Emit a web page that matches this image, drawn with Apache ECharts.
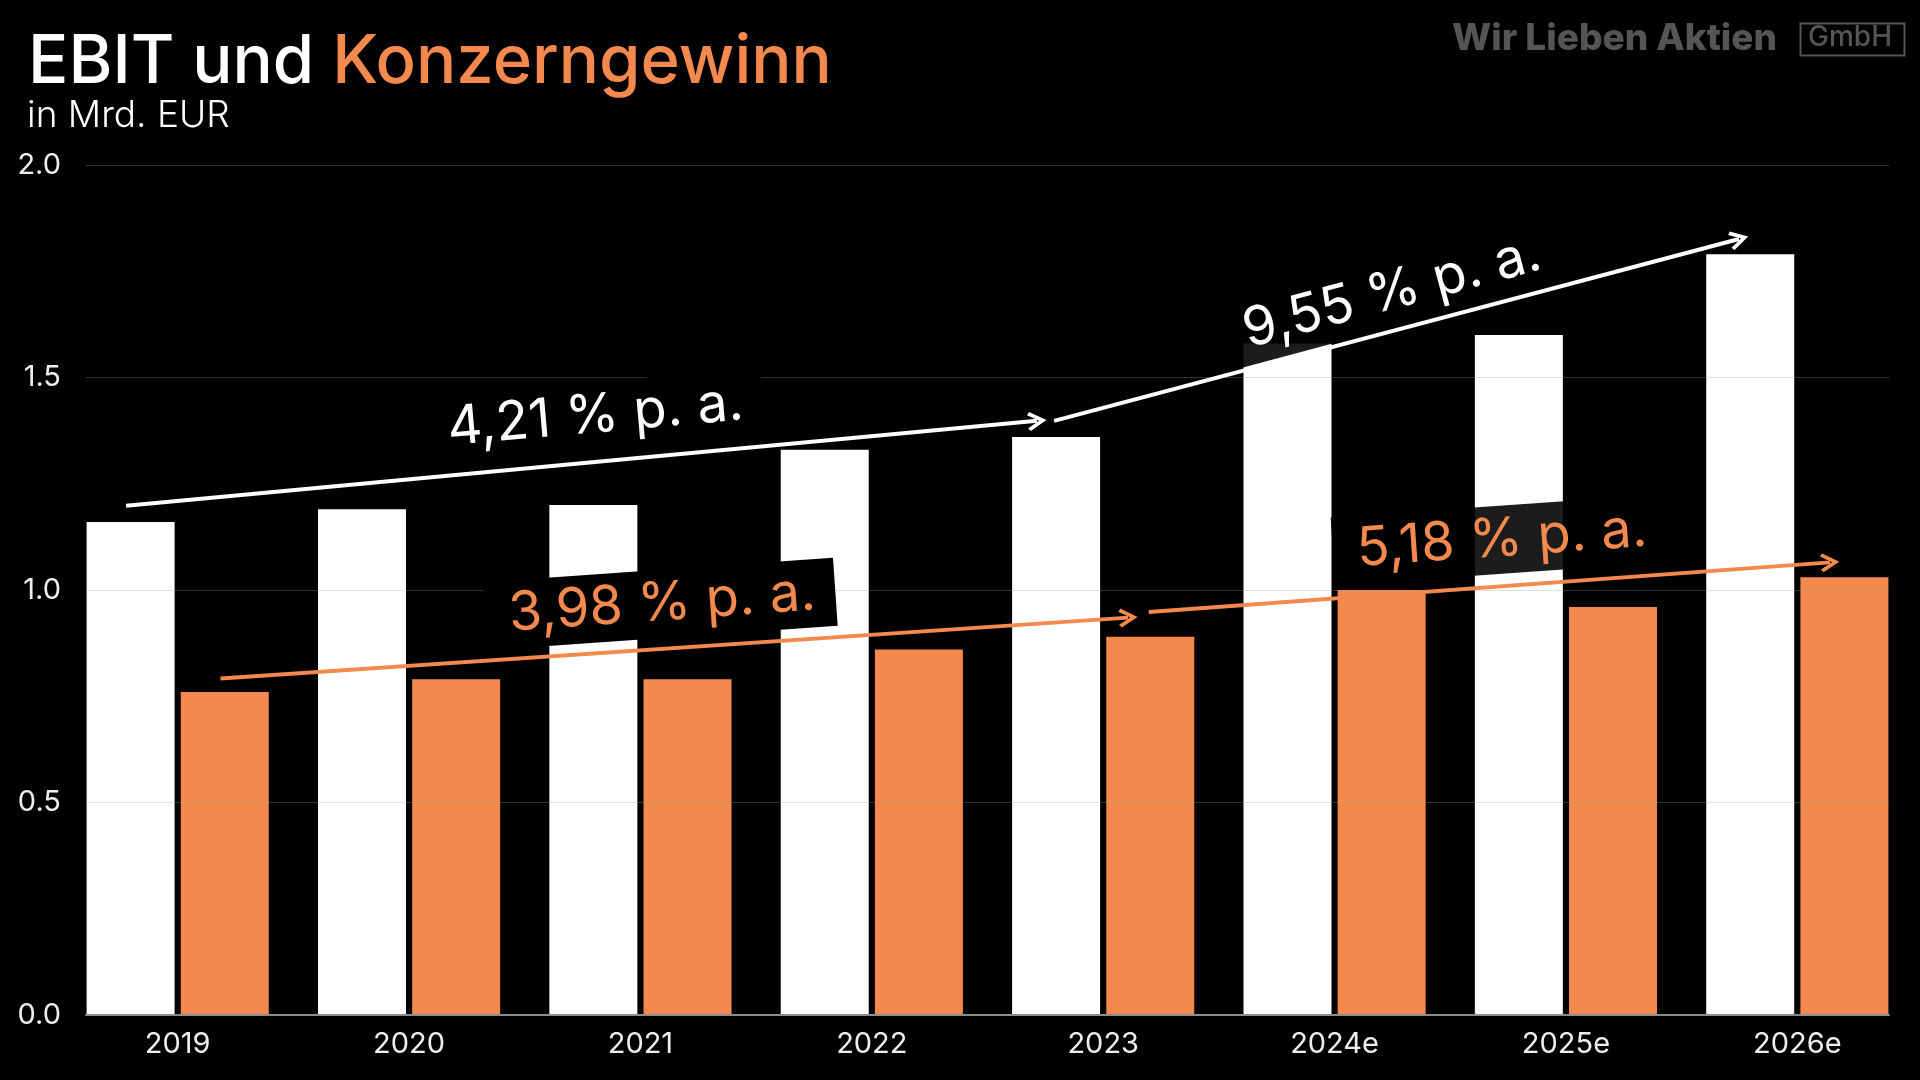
<!DOCTYPE html>
<html>
<head>
<meta charset="utf-8">
<script src="https://cdn.jsdelivr.net/npm/echarts@6/dist/echarts.min.js"></script>
<style>
html, body { margin: 0; padding: 0; background: #000; }
#chart { width: 1920px; height: 1080px; }
</style>
</head>
<body>
<div id="chart"></div>
<script>
// ---- data ----
const categories = ['2019', '2020', '2021', '2022', '2023', '2024e', '2025e', '2026e'];
const ebit = [1.16, 1.19, 1.20, 1.33, 1.36, 1.58, 1.60, 1.79];
const konzerngewinn = [0.76, 0.79, 0.79, 0.86, 0.89, 1.00, 0.96, 1.03];
const yMin = 0, yMax = 2, yStep = 0.5;

// trend arrows in data coordinates [categoryIndex, value]
const ebitTrend = [
  [[-0.223, 1.198], [3.714, 1.398]],
  [[3.788, 1.398], [6.748, 1.826]]
];
const profitTrend = [
  [[0.185, 0.792], [4.108, 0.935]],
  [[4.197, 0.948], [7.141, 1.065]]
];
// growth labels: text, [categoryIndex, value], rotation
const ebitGrowthText = ['4,21 % p. a.', '9,55 % p. a.'];
const ebitGrowthPos = [[1.796, 1.409], [5.240, 1.699]];
const ebitGrowthRot = [5, 15];
const profitGrowthText = ['3,98 % p. a.', '5,18 % p. a.'];
const profitGrowthPos = [[2.085, 0.967], [5.715, 1.118]];
const profitGrowthRot = [4, 4];

// ---- styles ----
const WHITE = '#ffffff';
const ORANGE = '#f3894d';
const FONT = 'Inter, "Noto Sans", sans-serif';
const ARROW = 'path://M9,0 L18,14 L15.2,16 L9,6.2 L2.8,16 L0,14 Z';

function growthLabels(texts, pos, rot, color, boxColors) {
  return texts.map((t, i) => ({
    value: pos[i],
    label: {
      show: true,
      position: 'inside',
      formatter: t,
      rotate: rot[i],
      color: color,
      opacity: 1,
      fontSize: 54,
      fontFamily: FONT,
      fontWeight: 400,
      backgroundColor: boxColors[i],
      padding: [6, 20, 8, 24]
    }
  }));
}

const chart = echarts.init(document.getElementById('chart'));
const option = {
  backgroundColor: '#000000',
  animation: false,
  textStyle: { fontFamily: FONT },
  title: [
    {
      text: '{w|EBIT und }{o|Konzerngewinn}',
      left: 28, top: 29, padding: 0,
      textStyle: {
        rich: {
          w: { color: WHITE, fontSize: 67, fontWeight: 500, fontFamily: FONT, lineHeight: 67 },
          o: { color: ORANGE, fontSize: 67, fontWeight: 500, fontFamily: FONT, lineHeight: 67 }
        }
      }
    },
    {
      text: 'in Mrd. EUR',
      left: 27, top: 97, padding: 0,
      textStyle: { color: WHITE, fontSize: 37, fontWeight: 300, fontFamily: FONT, lineHeight: 37 }
    }
  ],
  grid: [
    { left: 62, right: 7, top: 165, bottom: 65 },
    { left: 86, right: 31, top: 165, bottom: 65 }
  ],
  xAxis: [
    {
      type: 'category', gridIndex: 0, data: categories,
      axisLine: { show: false }, axisTick: { show: false },
      axisLabel: { color: '#eeeeee', fontSize: 29, margin: 15, fontFamily: FONT }
    },
    { type: 'value', gridIndex: 0, min: -0.5, max: categories.length - 0.5, show: false },
    {
      type: 'value', gridIndex: 1, min: 0, max: 1, z: 2,
      axisLine: { show: true, lineStyle: { color: '#8c8c8c', width: 2 } },
      axisTick: { show: false }, axisLabel: { show: false }, splitLine: { show: false }
    }
  ],
  yAxis: [
    { type: 'value', gridIndex: 0, min: yMin, max: yMax, interval: yStep, show: false },
    {
      type: 'value', gridIndex: 1, min: yMin, max: yMax, interval: yStep, z: 2,
      axisLine: { show: false }, axisTick: { show: false },
      axisLabel: { color: '#eeeeee', fontSize: 29, margin: 25, fontFamily: FONT, formatter: v => v.toFixed(1) },
      splitLine: { lineStyle: { color: 'rgba(160,160,160,0.32)', width: 1 } }
    }
  ],
  series: [
    {
      name: 'EBIT', type: 'bar', xAxisIndex: 0, yAxisIndex: 0, data: ebit,
      barWidth: 88, barGap: '7%', itemStyle: { color: WHITE }, z: 1
    },
    {
      name: 'Konzerngewinn', type: 'bar', xAxisIndex: 0, yAxisIndex: 0, data: konzerngewinn,
      barWidth: 88, barGap: '7%', itemStyle: { color: ORANGE }, z: 1
    },
    {
      type: 'scatter', xAxisIndex: 1, yAxisIndex: 0, symbolSize: 1, silent: true, z: 3,
      itemStyle: { color: 'rgba(0,0,0,0)', opacity: 1 },
      data: growthLabels(ebitGrowthText, ebitGrowthPos, ebitGrowthRot, WHITE, ['#000000', 'rgba(0,0,0,0.89)'])
    },
    {
      type: 'scatter', xAxisIndex: 1, yAxisIndex: 0, symbolSize: 1, silent: true, z: 3,
      itemStyle: { color: 'rgba(0,0,0,0)', opacity: 1 },
      data: growthLabels(profitGrowthText, profitGrowthPos, profitGrowthRot, ORANGE, ['#000000', 'rgba(0,0,0,0.89)'])
    },
    {
      type: 'lines', coordinateSystem: 'cartesian2d', xAxisIndex: 1, yAxisIndex: 0, z: 4, silent: true,
      symbol: ['none', ARROW], symbolSize: 19,
      lineStyle: { color: WHITE, width: 4, opacity: 1 },
      data: ebitTrend.map(c => ({ coords: c }))
    },
    {
      type: 'lines', coordinateSystem: 'cartesian2d', xAxisIndex: 1, yAxisIndex: 0, z: 4, silent: true,
      symbol: ['none', ARROW], symbolSize: 19,
      lineStyle: { color: ORANGE, width: 4, opacity: 1 },
      data: profitTrend.map(c => ({ coords: c }))
    }
  ],
  graphic: [
    {
      type: 'text', x: 1452, y: 39, silent: true,
      style: { text: 'Wir Lieben Aktien', fill: '#555555', font: '800 37px Inter, "Noto Sans", sans-serif', textVerticalAlign: 'middle' }
    },
    {
      type: 'rect', left: 1798, top: 21, silent: true,
      shape: { width: 104, height: 32 },
      style: { fill: 'none', stroke: '#555555', lineWidth: 2 }
    },
    {
      type: 'text', x: 1850, y: 38, silent: true,
      style: { text: 'GmbH', fill: '#555555', font: '500 28px Inter, "Noto Sans", sans-serif', textAlign: 'center', textVerticalAlign: 'middle' }
    }
  ]
};
chart.setOption(option);
</script>
</body>
</html>
